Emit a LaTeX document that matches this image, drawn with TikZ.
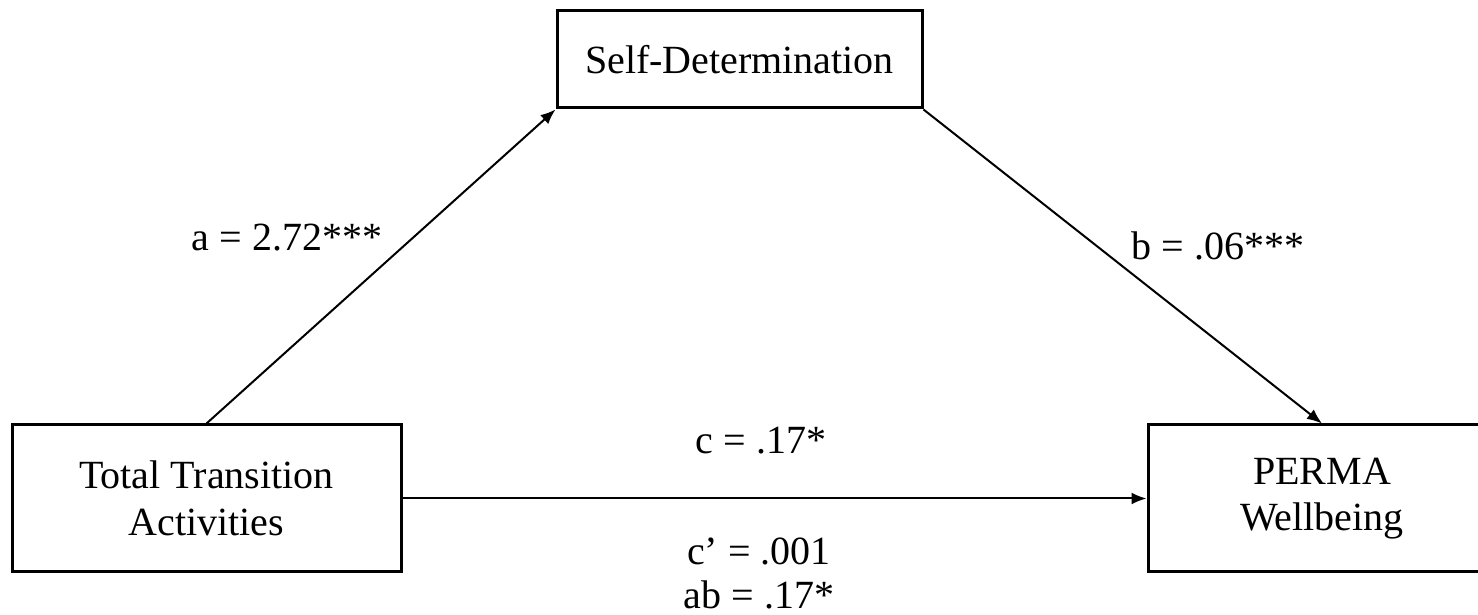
\documentclass[tikz,border=0pt]{standalone}
\usepackage{fontspec}
\setmainfont{Liberation Serif}
\usepackage{tikz}
\usetikzlibrary{arrows.meta,positioning}

\begin{document}
\begin{tikzpicture}[
  x=0.3pt,y=-0.3pt,
  font=\fontsize{12}{14}\selectfont,
  box/.style={draw,line width=0.9pt,align=center,inner sep=0pt},
  path/.style={line width=0.6pt,-{Latex[length=4.5pt,width=3.6pt]}},
  lbl/.style={inner sep=1pt,align=center}
]
\useasboundingbox (0,0) rectangle (1478,615);

\node[box,minimum width=109.5pt,minimum height=29.1pt] (sdt) at (739.5,59.5)
  {Self-Determination};
\node[box,minimum width=116.7pt,minimum height=44.1pt] (tta) at (206.5,498.5)
  {Total Transition\\Activities};
\node[box,minimum width=104.4pt,minimum height=44.1pt] (perma) at (1322,498.5)
  {PERMA\\Wellbeing};

\draw[path] (tta.north) -- (sdt.south west);
\draw[path] (sdt.south east) -- (perma.north);
\draw[path] (tta.east) -- (perma.west);

\node[lbl] (la) at (287,238) {a = 2.72***};
\node[lbl] (lb) at (1218,246) {b = .06***};
\node[lbl] (lc) at (761,441) {c = .17*};
\node[lbl,font=\fontsize{12}{13.2}\selectfont] (lcab) at (759,573)
  {c’ = .001\\ab = .17*};
\end{tikzpicture}
\end{document}
